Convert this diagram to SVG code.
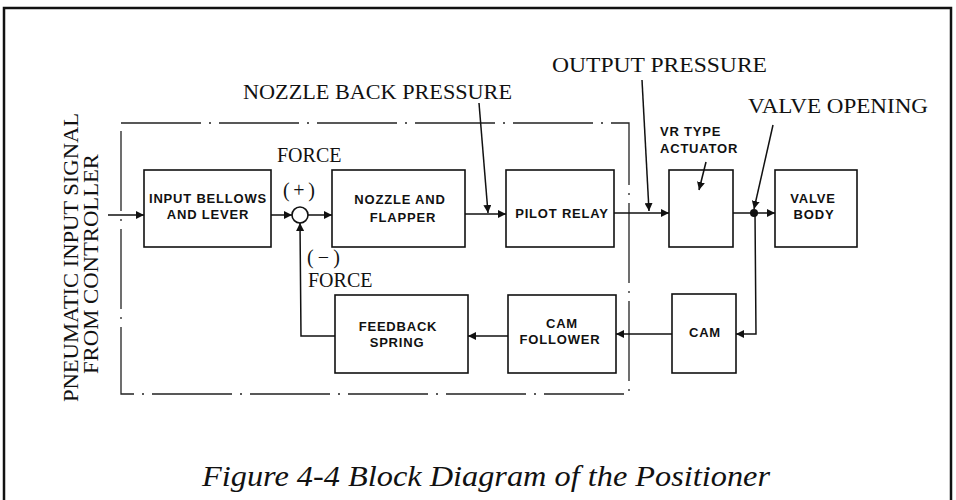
<svg xmlns="http://www.w3.org/2000/svg" width="956" height="500" viewBox="0 0 956 500">
<style>
.box{fill:none;stroke:#111;stroke-width:1.6}
.ln{fill:none;stroke:#111;stroke-width:1.5}
.bt{font-family:"Liberation Sans",Arial,sans-serif;font-size:13px;font-weight:bold;fill:#111;text-anchor:middle;letter-spacing:0.8px}
.lb{font-family:"Liberation Serif","Times New Roman",serif;font-size:20px;fill:#111}
.dash{fill:none;stroke:#222;stroke-width:1.3;stroke-dasharray:80,8,2,8}
</style>
<defs>
<marker id="ah" viewBox="0 0 10 10" refX="10" refY="5" markerWidth="8" markerHeight="8" markerUnits="userSpaceOnUse" orient="auto">
<path d="M0,0 L10,5 L0,10 Z" fill="#111"/>
</marker>
</defs>
<rect x="4" y="8" width="947" height="500" fill="none" stroke="#111" stroke-width="2.5"/>
<rect class="dash" x="121" y="123" width="508" height="271"/>

<g id="input-label">
<text class="lb" font-size="21" transform="translate(78,402) rotate(-90)" textLength="289" lengthAdjust="spacingAndGlyphs">PNEUMATIC INPUT SIGNAL</text>
<text class="lb" font-size="21" transform="translate(98,374) rotate(-90)" textLength="220" lengthAdjust="spacingAndGlyphs">FROM CONTROLLER</text>
</g>

<g id="bellows">
<rect class="box" x="144" y="170" width="127" height="77"/>
<text class="bt" x="208" y="203">INPUT BELLOWS</text>
<text class="bt" x="208" y="219">AND LEVER</text>
</g>

<g id="sum">
<circle cx="300" cy="215" r="8" fill="#fff" stroke="#111" stroke-width="1.6"/>
<text class="lb" x="277" y="162" font-size="21">FORCE</text>
<text class="lb" x="283" y="197" font-size="14" textLength="32">( + )</text>
<text class="lb" x="307" y="264" font-size="14" textLength="33">( − )</text>
<text class="lb" x="308" y="287" font-size="21">FORCE</text>
</g>

<g id="nozzle">
<rect class="box" x="332" y="170" width="133" height="77"/>
<text class="bt" x="400" y="204">NOZZLE AND</text>
<text class="bt" x="403" y="222">FLAPPER</text>
</g>

<g id="pilot">
<rect class="box" x="506" y="170" width="108" height="77"/>
<text class="bt" x="562" y="218">PILOT RELAY</text>
</g>

<g id="actuator">
<rect class="box" x="669" y="170" width="64" height="77"/>
<text class="bt" x="660" y="136" style="text-anchor:start">VR TYPE</text>
<text class="bt" x="660" y="153" style="text-anchor:start">ACTUATOR</text>
</g>

<g id="valve-body">
<rect class="box" x="775" y="170" width="82" height="77"/>
<text class="bt" x="813" y="203">VALVE</text>
<text class="bt" x="814" y="219">BODY</text>
</g>

<g id="feedback">
<rect class="box" x="335" y="295" width="133" height="78"/>
<text class="bt" x="398" y="331">FEEDBACK</text>
<text class="bt" x="397" y="347">SPRING</text>
</g>

<g id="cam-follower">
<rect class="box" x="508" y="295" width="108" height="78"/>
<text class="bt" x="562" y="328">CAM</text>
<text class="bt" x="560" y="344">FOLLOWER</text>
</g>

<g id="cam">
<rect class="box" x="672" y="294" width="64" height="79"/>
<text class="bt" x="705" y="337">CAM</text>
</g>

<g id="labels">
<text class="lb" x="243" y="99" textLength="269" lengthAdjust="spacingAndGlyphs">NOZZLE BACK PRESSURE</text>
<text class="lb" x="552" y="72" textLength="215" lengthAdjust="spacingAndGlyphs">OUTPUT PRESSURE</text>
<text class="lb" x="748" y="113" textLength="180" lengthAdjust="spacingAndGlyphs">VALVE OPENING</text>
</g>

<g id="connectors">
<line class="ln" x1="108" y1="215" x2="144" y2="215" marker-end="url(#ah)"/>
<line class="ln" x1="271" y1="215" x2="292" y2="215" marker-end="url(#ah)"/>
<line class="ln" x1="308" y1="215" x2="332" y2="215" marker-end="url(#ah)"/>
<line class="ln" x1="465" y1="214" x2="506" y2="214" marker-end="url(#ah)"/>
<line class="ln" x1="479" y1="103" x2="488" y2="213" marker-end="url(#ah)"/>
<line class="ln" x1="614" y1="213" x2="669" y2="213" marker-end="url(#ah)"/>
<line class="ln" x1="642" y1="80" x2="649" y2="211" marker-end="url(#ah)"/>
<line class="ln" x1="733" y1="213" x2="775" y2="213" marker-end="url(#ah)"/>
<circle cx="754" cy="213" r="4" fill="#111"/>
<line class="ln" x1="773" y1="125" x2="754" y2="209" marker-end="url(#ah)"/>
<line class="ln" x1="706" y1="162" x2="699" y2="190" marker-end="url(#ah)"/>
<polyline class="ln" points="755,213 756,334 736,334" marker-end="url(#ah)"/>
<line class="ln" x1="672" y1="334" x2="616" y2="334" marker-end="url(#ah)"/>
<line class="ln" x1="508" y1="336" x2="468" y2="336" marker-end="url(#ah)"/>
<polyline class="ln" points="335,336 301,336 300,223" marker-end="url(#ah)"/>
</g>

<text x="202" y="486" font-family="'Liberation Serif','Times New Roman',serif" font-style="italic" font-size="30" fill="#111" textLength="568" lengthAdjust="spacingAndGlyphs">Figure 4-4  Block Diagram of the Positioner</text>
</svg>
